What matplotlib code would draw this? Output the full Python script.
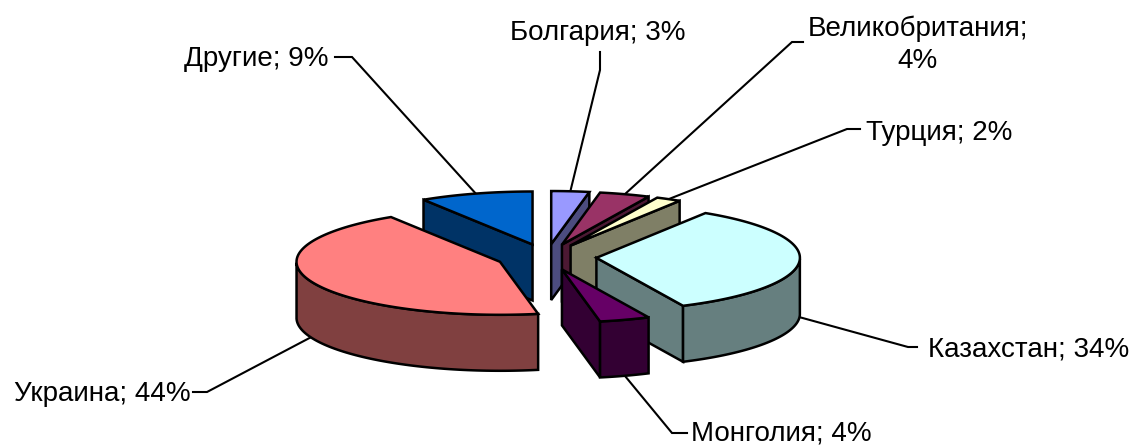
import numpy as np
import matplotlib
matplotlib.use("Agg")
import matplotlib.pyplot as plt

# --- DATA ---
names = ["Болгария", "Великобритания", "Турция", "Казахстан", "Монголия", "Украина", "Другие"]
shares = [3, 4, 2, 34, 4, 44, 9]
top_colors = ["#9999FF", "#993366", "#FFFFCC", "#CCFFFF", "#660066", "#FF8080", "#0066CC"]
side_colors = ["#4C4C7F", "#4C1933", "#7F7F66", "#667F7F", "#330033", "#804040", "#003366"]

# text of each label, x / y of the label, and the elbow of its leader (pixels)
label_texts = ["Болгария; 3%", "Великобритания;\n4%", "Турция; 2%", "Казахстан; 34%",
               "Монголия; 4%", "Украина; 44%", "Другие; 9%"]
label_pos = [(598, 33), (918, 45), (939, 133), (1029, 349), (781, 434), (102, 394), (256, 59)]
elbows = [[(600, 52), (600, 70)], [(803, 42), (792, 42)], [(860, 129), (847, 129)],
          [(917, 347), (908, 347)], [(687, 433), (672, 433)], [(193, 392), (207, 392)],
          [(335, 57), (352, 57)]]

# --- PIE GEOMETRY (pixels) ---
CX, CY = 546.5, 257
RX, RY = 203.5, 53
DEPTH = 56
EXPLODE = 50
EDGE = 1.8

plt.rcParams['font.family'] = ['Liberation Sans', 'DejaVu Sans']
fig = plt.figure(figsize=(11.33, 4.45), dpi=100)
ax = fig.add_axes([0, 0, 1, 1])
ax.set_xlim(0, 1133)
ax.set_ylim(445, 0)
ax.axis('off')


def rim(theta, x0, y0):
    # theta is clockwise from 12 o'clock
    return x0 + RX * np.sin(theta), y0 - RY * np.cos(theta)


def face(xs, ys, color, z):
    ax.fill(xs, ys, facecolor=color, edgecolor='black', linewidth=EDGE,
            joinstyle='miter', zorder=z)


edges = np.cumsum([0] + shares) / sum(shares) * 2 * np.pi
mids = (edges[:-1] + edges[1:]) / 2
tips = [(CX + EXPLODE * np.sin(m), CY - EXPLODE * RY / RX * np.cos(m)) for m in mids]

# back slices first
order = np.argsort(-np.cos(mids))
for z, i in enumerate(order):
    a, b = edges[i], edges[i + 1]
    x0, y0 = tips[i]
    z = z * 3 + 2

    # radial walls that face the viewer
    for angle, visible in ((a, np.sin(a) < -1e-6), (b, np.sin(b) > 1e-6)):
        if visible:
            xr, yr = rim(angle, x0, y0)
            face([x0, xr, xr, x0], [y0, yr, yr + DEPTH, y0 + DEPTH], side_colors[i], z)

    # outer wall on the front part of the rim
    t = np.linspace(a, b, 120)
    front = t[np.cos(t) < 0]
    if len(front):
        xr, yr = rim(front, x0, y0)
        face(np.r_[xr, xr[::-1]], np.r_[yr, yr[::-1] + DEPTH], side_colors[i], z + 1)

    # top
    xr, yr = rim(t, x0, y0)
    face(np.r_[x0, xr], np.r_[y0, yr], top_colors[i], z + 2)

# --- LABELS AND LEADERS ---
for i in range(len(names)):
    xr, yr = rim(mids[i], *tips[i])
    if np.cos(mids[i]) < 0:
        yr += DEPTH
    pts = elbows[i] + [(xr, yr)]
    ax.plot([p[0] for p in pts], [p[1] for p in pts], color='black', lw=1.5,
            solid_joinstyle='miter', zorder=1)
    ax.text(label_pos[i][0], label_pos[i][1], label_texts[i], fontsize=20, ha='center',
            va='center', color='black', linespacing=1.3, zorder=40)

fig.savefig("out.png", dpi=100)
